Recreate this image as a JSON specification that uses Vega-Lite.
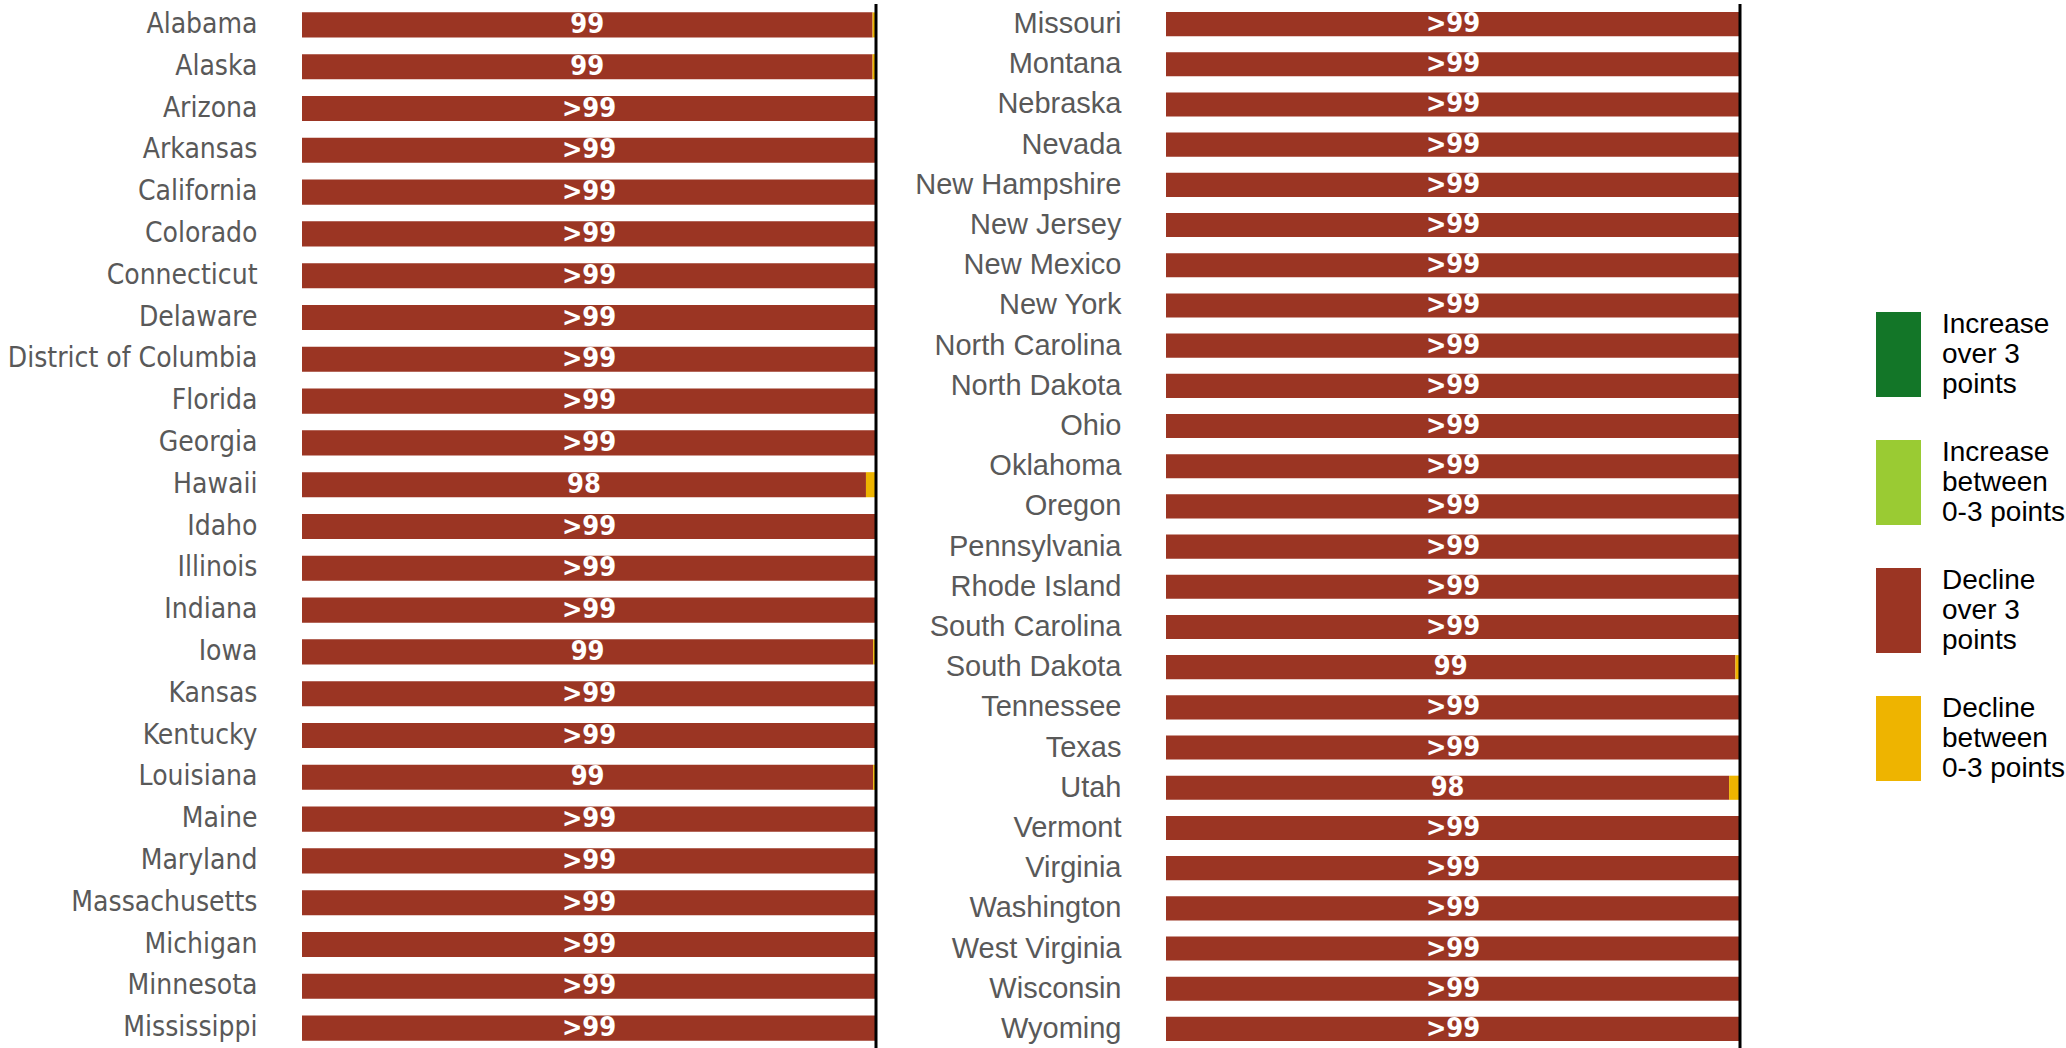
{
  "$schema": "https://vega.github.io/schema/vega-lite/v6.json",
  "padding": {"left": 7, "top": 2, "right": 0, "bottom": 0},
  "background": "white",
  "config": {"view": {"stroke": null}, "concat": {"spacing": 36}},
  "data": {"values": [
    {"panel": "L", "state": "Alabama", "d3": 99.4, "d03": 0.6, "label": "99"},
    {"panel": "L", "state": "Alaska", "d3": 99.4, "d03": 0.6, "label": "99"},
    {"panel": "L", "state": "Arizona", "d3": 100, "d03": 0, "label": ">99"},
    {"panel": "L", "state": "Arkansas", "d3": 100, "d03": 0, "label": ">99"},
    {"panel": "L", "state": "California", "d3": 100, "d03": 0, "label": ">99"},
    {"panel": "L", "state": "Colorado", "d3": 100, "d03": 0, "label": ">99"},
    {"panel": "L", "state": "Connecticut", "d3": 100, "d03": 0, "label": ">99"},
    {"panel": "L", "state": "Delaware", "d3": 100, "d03": 0, "label": ">99"},
    {"panel": "L", "state": "District of Columbia", "d3": 100, "d03": 0, "label": ">99"},
    {"panel": "L", "state": "Florida", "d3": 100, "d03": 0, "label": ">99"},
    {"panel": "L", "state": "Georgia", "d3": 100, "d03": 0, "label": ">99"},
    {"panel": "L", "state": "Hawaii", "d3": 98.25, "d03": 1.75, "label": "98"},
    {"panel": "L", "state": "Idaho", "d3": 100, "d03": 0, "label": ">99"},
    {"panel": "L", "state": "Illinois", "d3": 100, "d03": 0, "label": ">99"},
    {"panel": "L", "state": "Indiana", "d3": 100, "d03": 0, "label": ">99"},
    {"panel": "L", "state": "Iowa", "d3": 99.5, "d03": 0.5, "label": "99"},
    {"panel": "L", "state": "Kansas", "d3": 100, "d03": 0, "label": ">99"},
    {"panel": "L", "state": "Kentucky", "d3": 100, "d03": 0, "label": ">99"},
    {"panel": "L", "state": "Louisiana", "d3": 99.5, "d03": 0.5, "label": "99"},
    {"panel": "L", "state": "Maine", "d3": 100, "d03": 0, "label": ">99"},
    {"panel": "L", "state": "Maryland", "d3": 100, "d03": 0, "label": ">99"},
    {"panel": "L", "state": "Massachusetts", "d3": 100, "d03": 0, "label": ">99"},
    {"panel": "L", "state": "Michigan", "d3": 100, "d03": 0, "label": ">99"},
    {"panel": "L", "state": "Minnesota", "d3": 100, "d03": 0, "label": ">99"},
    {"panel": "L", "state": "Mississippi", "d3": 100, "d03": 0, "label": ">99"},
    {"panel": "R", "state": "Missouri", "d3": 100, "d03": 0, "label": ">99"},
    {"panel": "R", "state": "Montana", "d3": 100, "d03": 0, "label": ">99"},
    {"panel": "R", "state": "Nebraska", "d3": 100, "d03": 0, "label": ">99"},
    {"panel": "R", "state": "Nevada", "d3": 100, "d03": 0, "label": ">99"},
    {"panel": "R", "state": "New Hampshire", "d3": 100, "d03": 0, "label": ">99"},
    {"panel": "R", "state": "New Jersey", "d3": 100, "d03": 0, "label": ">99"},
    {"panel": "R", "state": "New Mexico", "d3": 100, "d03": 0, "label": ">99"},
    {"panel": "R", "state": "New York", "d3": 100, "d03": 0, "label": ">99"},
    {"panel": "R", "state": "North Carolina", "d3": 100, "d03": 0, "label": ">99"},
    {"panel": "R", "state": "North Dakota", "d3": 100, "d03": 0, "label": ">99"},
    {"panel": "R", "state": "Ohio", "d3": 100, "d03": 0, "label": ">99"},
    {"panel": "R", "state": "Oklahoma", "d3": 100, "d03": 0, "label": ">99"},
    {"panel": "R", "state": "Oregon", "d3": 100, "d03": 0, "label": ">99"},
    {"panel": "R", "state": "Pennsylvania", "d3": 100, "d03": 0, "label": ">99"},
    {"panel": "R", "state": "Rhode Island", "d3": 100, "d03": 0, "label": ">99"},
    {"panel": "R", "state": "South Carolina", "d3": 100, "d03": 0, "label": ">99"},
    {"panel": "R", "state": "South Dakota", "d3": 99.2, "d03": 0.8, "label": "99"},
    {"panel": "R", "state": "Tennessee", "d3": 100, "d03": 0, "label": ">99"},
    {"panel": "R", "state": "Texas", "d3": 100, "d03": 0, "label": ">99"},
    {"panel": "R", "state": "Utah", "d3": 98.1, "d03": 1.9, "label": "98"},
    {"panel": "R", "state": "Vermont", "d3": 100, "d03": 0, "label": ">99"},
    {"panel": "R", "state": "Virginia", "d3": 100, "d03": 0, "label": ">99"},
    {"panel": "R", "state": "Washington", "d3": 100, "d03": 0, "label": ">99"},
    {"panel": "R", "state": "West Virginia", "d3": 100, "d03": 0, "label": ">99"},
    {"panel": "R", "state": "Wisconsin", "d3": 100, "d03": 0, "label": ">99"},
    {"panel": "R", "state": "Wyoming", "d3": 100, "d03": 0, "label": ">99"}
  ]},
  "hconcat": [
    {
      "width": 574, "height": 1045,
      "transform": [{"filter": "datum.panel == 'L'"}, {"fold": ["d3", "d03"], "as": ["cat", "value"]}],
      "layer": [
        {
          "mark": {"type": "bar"},
          "encoding": {
            "y": {"field": "state", "type": "nominal", "sort": null, "scale": {"paddingInner": 0.4, "paddingOuter": 0.2},
                  "axis": {"title": null, "domain": false, "ticks": false, "labelPadding": 45, "labelFont": "DejaVu Sans Condensed", "labelFontSize": 28, "labelColor": "#595959", "labelLimit": 0}},
            "x": {"field": "value", "type": "quantitative", "stack": "zero", "scale": {"domain": [0, 100]}, "axis": null},
            "color": {"field": "cat", "type": "nominal",
              "scale": {"domain": ["i3", "i03", "d3", "d03"], "range": ["#137628", "#9ACB33", "#9B3523", "#EEB400"]},
              "legend": {"orient": "none", "legendX": 1554, "legendY": 278, "title": null, "padding": 0,
                "symbolType": "M-0.5294,-0.294H0.5294V1.706H-0.5294Z", "symbolSize": 7225, "symbolStrokeWidth": 0, "symbolOpacity": 1,
                "labelFont": "Liberation Sans", "labelFontSize": 28, "labelColor": "black", "labelOffset": 1, "labelLimit": 0,
                "rowPadding": 11, "labelBaseline": "middle",
                "labelExpr": "datum.value == 'i3' ? ['Increase', 'over 3', 'points'] : datum.value == 'i03' ? ['Increase', 'between', '0-3 points'] : datum.value == 'd3' ? ['Decline', 'over 3', 'points'] : ['Decline', 'between', '0-3 points']"}},
            "order": {"field": "cat", "sort": "descending"}
          }
        },
        {
          "mark": {"type": "text", "color": "white", "font": "DejaVu Sans Condensed", "fontWeight": "bold", "fontSize": 27, "baseline": "middle", "align": "center"},
          "encoding": {
            "y": {"field": "state", "type": "nominal", "sort": null},
            "x": {"field": "value", "type": "quantitative", "stack": "zero", "bandPosition": 0.5},
            "detail": {"field": "cat"},
            "order": {"field": "cat", "sort": "descending"},
            "text": {"condition": {"test": "datum.cat == 'd3'", "field": "label"}, "value": ""}
          }
        },
        {
          "data": {"values": [{}]},
          "mark": {"type": "rule", "color": "black", "strokeWidth": 3},
          "encoding": {"x": {"datum": 100}}
        }
      ]
    },
    {
      "width": 574, "height": 1045,
      "transform": [{"filter": "datum.panel == 'R'"}, {"fold": ["d3", "d03"], "as": ["cat", "value"]}],
      "layer": [
        {
          "mark": {"type": "bar"},
          "encoding": {
            "y": {"field": "state", "type": "nominal", "sort": null, "scale": {"paddingInner": 0.4, "paddingOuter": 0.2},
                  "axis": {"title": null, "domain": false, "ticks": false, "labelPadding": 45, "labelFont": "Liberation Sans", "labelFontSize": 29, "labelColor": "#595959", "labelLimit": 0}},
            "x": {"field": "value", "type": "quantitative", "stack": "zero", "scale": {"domain": [0, 100]}, "axis": null},
            "color": {"field": "cat", "type": "nominal"},
            "order": {"field": "cat", "sort": "descending"}
          }
        },
        {
          "mark": {"type": "text", "color": "white", "font": "DejaVu Sans Condensed", "fontWeight": "bold", "fontSize": 27, "baseline": "middle", "align": "center"},
          "encoding": {
            "y": {"field": "state", "type": "nominal", "sort": null},
            "x": {"field": "value", "type": "quantitative", "stack": "zero", "bandPosition": 0.5},
            "detail": {"field": "cat"},
            "order": {"field": "cat", "sort": "descending"},
            "text": {"condition": {"test": "datum.cat == 'd3'", "field": "label"}, "value": ""}
          }
        },
        {
          "data": {"values": [{}]},
          "mark": {"type": "rule", "color": "black", "strokeWidth": 3},
          "encoding": {"x": {"datum": 100}}
        }
      ]
    }
  ],
  "resolve": {"scale": {"y": "independent", "x": "independent", "color": "shared"}}
}
